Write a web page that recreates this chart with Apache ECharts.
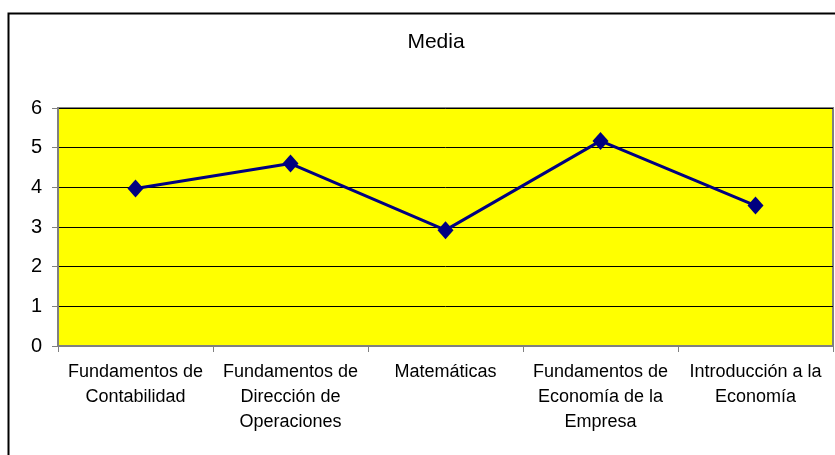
<!DOCTYPE html>
<html>
<head>
<meta charset="utf-8">
<script src="https://cdn.jsdelivr.net/npm/echarts@6/dist/echarts.min.js"></script>
<style>
  html, body { margin: 0; padding: 0; background: #fff; }
  #chart { width: 835px; height: 455px; }
</style>
</head>
<body>
<div id="chart"></div>
<script>
// asignaturas (eje x)
const asignaturas = [
  "Fundamentos de\nContabilidad",
  "Fundamentos de\nDirección de\nOperaciones",
  "Matemáticas",
  "Fundamentos de\nEconomía de la\nEmpresa",
  "Introducción a la\nEconomía"
];
// media de cada asignatura
const media = [3.97, 4.6, 2.92, 5.17, 3.54];
// ticks del eje y
const yMin = 0;
const yMax = 6;
const yStep = 1;

const myChart = echarts.init(document.getElementById("chart"));
const option = {
  animation: false,
  backgroundColor: "#fff",
  title: {
    text: "Media",
    left: 431,
    top: 27,
    textAlign: "center",
    textStyle: {
      fontFamily: "Liberation Sans, Arial",
      fontSize: 21,
      fontWeight: "normal",
      color: "#000"
    }
  },
  graphic: [
    {
      type: "rect",
      shape: { x: 8.5, y: 13.5, width: 900, height: 600 },
      style: { fill: null, stroke: "#000", lineWidth: 2 },
      silent: true,
      z: -1
    }
  ],
  grid: {
    left: 58,
    right: 2,
    top: 108,
    bottom: 109,
    show: true,
    backgroundColor: "#ffff00",
    borderColor: "#808080",
    borderWidth: 2
  },
  xAxis: {
    type: "category",
    data: asignaturas,
    boundaryGap: true,
    axisLine: { lineStyle: { color: "#808080", width: 2 } },
    axisTick: { show: true, length: 6, lineStyle: { color: "#808080", width: 1 } },
    axisLabel: {
      interval: 0,
      margin: 14,
      fontFamily: "Liberation Sans, Arial",
      fontSize: 18,
      lineHeight: 25,
      color: "#000"
    }
  },
  yAxis: {
    type: "value",
    min: yMin,
    max: yMax,
    interval: yStep,
    axisLine: { show: true, lineStyle: { color: "#808080", width: 2 } },
    axisTick: { show: true, length: 6, lineStyle: { color: "#808080" } },
    splitLine: { show: true, lineStyle: { color: "#000", width: 1 } },
    axisLabel: {
      margin: 16,
      fontFamily: "Liberation Sans, Arial",
      fontSize: 20,
      color: "#000"
    }
  },
  series: [
    {
      name: "Media",
      type: "line",
      data: media,
      symbol: "diamond",
      symbolSize: [16, 18],
      lineStyle: { color: "#000080", width: 3 },
      itemStyle: { color: "#000080" }
    }
  ]
};
myChart.setOption(option);
</script>
</body>
</html>
